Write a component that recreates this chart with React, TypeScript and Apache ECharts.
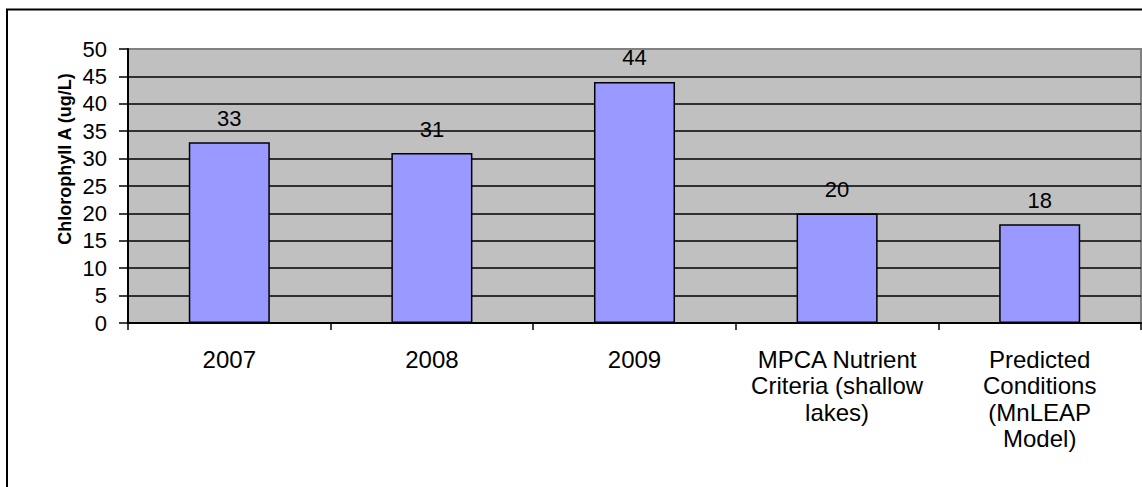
import React, { useEffect, useRef } from "react";
import * as echarts from "echarts";

const categories = [
  "2007",
  "2008",
  "2009",
  "MPCA Nutrient\nCriteria (shallow\nlakes)",
  "Predicted\nConditions\n(MnLEAP\nModel)",
];
const values = [33, 31, 44, 20, 18];
const yAxisTitle = "Chlorophyll A (ug/L)";
const yMin = 0;
const yMax = 50;
const yInterval = 5;

export default function App() {
  const ref = useRef<HTMLDivElement>(null);
  useEffect(() => {
    if (!ref.current) return;
    const chart = echarts.init(ref.current, null, { renderer: "svg" });
    const font = "'Liberation Sans', Arial, sans-serif";
    chart.setOption({
      animation: false,
      backgroundColor: "#ffffff",
      textStyle: { fontFamily: font },
      grid: {
        left: 128,
        top: 49,
        right: 1,
        bottom: 164,
        show: true,
        backgroundColor: "#C0C0C0",
        borderColor: "#808080",
        borderWidth: 2,
      },
      graphic: [
        {
          type: "rect",
          shape: { x: 7, y: 9.5, width: 1300, height: 700 },
          style: { fill: "none", stroke: "#000", lineWidth: 2 },
          silent: true,
        },
        {
          type: "text",
          x: 65,
          y: 159,
          rotation: Math.PI / 2,
          style: {
            text: yAxisTitle,
            fontFamily: font,
            fontSize: 18,
            fontWeight: "bold",
            fill: "#000",
            align: "center",
            verticalAlign: "middle",
          },
        },
      ],
      xAxis: {
        type: "category",
        data: categories,
        axisLine: { lineStyle: { color: "#000", width: 2 } },
        axisTick: { show: true, length: 7, lineStyle: { color: "#000", width: 1.5 } },
        axisLabel: {
          color: "#000",
          fontFamily: font,
          fontSize: 24,
          lineHeight: 26.5,
          margin: 23,
          interval: 0,
        },
        splitLine: { show: false },
      },
      yAxis: {
        type: "value",
        min: yMin,
        max: yMax,
        interval: yInterval,
        axisLine: { show: true, lineStyle: { color: "#000", width: 2 } },
        axisTick: { show: true, length: 9, lineStyle: { color: "#000", width: 1.5 } },
        axisLabel: {
          color: "#000",
          fontFamily: font,
          fontSize: 22,
          margin: 21,
        },
        splitLine: {
          show: true,
          showMaxLine: false,
          lineStyle: { color: "#000", width: 1.5 },
        },
      },
      series: [
        {
          type: "bar",
          data: values,
          barWidth: "40%",
          itemStyle: { color: "#9999FF", borderColor: "#000", borderWidth: 1.5 },
          label: {
            show: true,
            position: "top",
            distance: 13,
            color: "#000",
            fontFamily: font,
            fontSize: 22,
          },
        },
      ],
    });
    return () => chart.dispose();
  }, []);
  return (
    <div
      ref={ref}
      style={{ position: "absolute", left: 0, top: 0, width: 1142, height: 487 }}
    />
  );
}
